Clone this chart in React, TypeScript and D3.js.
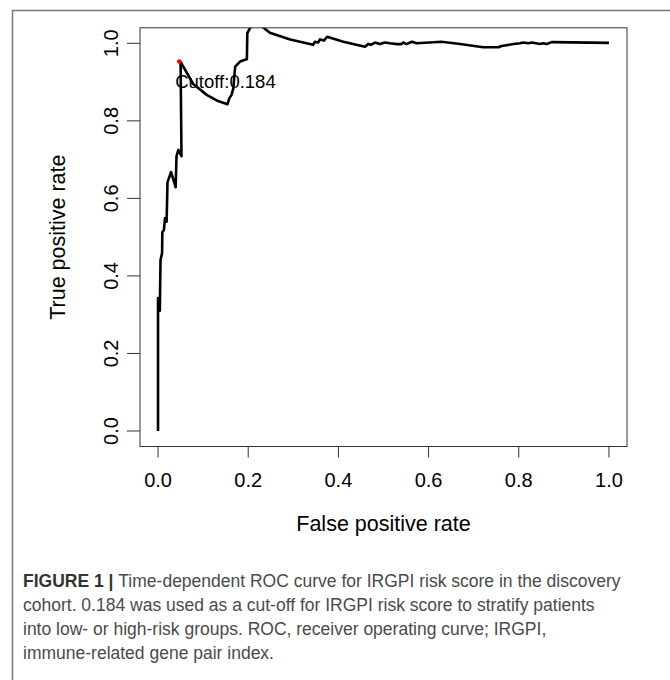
import * as d3 from "d3";
import { useEffect, useRef } from "react";

// ROC curve points (false positive rate / true positive rate)
const fpr = [0, 0, 0.004, 0.0055, 0.009, 0.0095, 0.013, 0.0155, 0.019, 0.021, 0.029, 0.039, 0.041, 0.045, 0.049, 0.052,
  0.050, 0.078, 0.108, 0.133, 0.154, 0.158, 0.163, 0.167, 0.171, 0.178, 0.182, 0.191, 0.197, 0.198, 0.204, 0.210,
  0.229, 0.248, 0.293, 0.344, 0.348, 0.355, 0.359, 0.368, 0.375, 0.411, 0.459, 0.466, 0.472, 0.481, 0.492, 0.503,
  0.514, 0.530, 0.540, 0.544, 0.551, 0.563, 0.574, 0.629, 0.670, 0.721, 0.755, 0.762, 0.788, 0.803, 0.810, 0.821,
  0.829, 0.847, 0.854, 0.862, 0.873, 1.0];
const tpr = [0, 0.343, 0.310, 0.441, 0.459, 0.513, 0.518, 0.549, 0.540, 0.642, 0.668, 0.629, 0.709, 0.725, 0.716, 0.709,
  0.952, 0.895, 0.867, 0.851, 0.843, 0.858, 0.867, 0.884, 0.940, 0.948, 0.953, 0.957, 0.959, 1.026, 1.039, 1.052,
  1.045, 1.027, 1.010, 0.996, 1.004, 1.002, 1.010, 1.007, 1.017, 1.004, 0.991, 0.998, 0.996, 1.002, 0.998, 1.002,
  1.000, 0.998, 0.998, 1.002, 0.998, 1.004, 1.000, 1.004, 0.998, 0.990, 0.990, 0.993, 0.998, 1.000, 1.002, 1.000,
  1.002, 0.998, 1.000, 0.998, 1.003, 1.001];

const cutoffPoint = [0.047, 0.953];
const cutoffLabel = "Cutoff:0.184";

const xTicks = [0, 0.2, 0.4, 0.6, 0.8, 1.0];
const yTicks = [0, 0.2, 0.4, 0.6, 0.8, 1.0];

const xTitle = "False positive rate";
const yTitle = "True positive rate";

const captionLines = [
  { bold: "FIGURE 1 | ", text: "Time-dependent ROC curve for IRGPI risk score in the discovery" },
  { bold: "", text: "cohort. 0.184 was used as a cut-off for IRGPI risk score to stratify patients" },
  { bold: "", text: "into low- or high-risk groups. ROC, receiver operating curve; IRGPI," },
  { bold: "", text: "immune-related gene pair index." },
];

const FONT = "'Liberation Sans', Arial, Helvetica, sans-serif";

export default function App() {
  const ref = useRef<SVGSVGElement>(null);

  useEffect(() => {
    const svg = d3.select(ref.current);
    svg.selectAll("*").remove();

    const left = 140, right = 627, top = 27.8, bottom = 446.5;

    // R style: axis range padded by 4% each side
    const x = d3.scaleLinear().domain([-0.04, 1.04]).range([left, right]);
    const y = d3.scaleLinear().domain([-0.04, 1.04]).range([bottom, top]);

    // figure frame (top + left edge)
    svg.append("path")
      .attr("d", "M12.5,680 L12.5,10.5 L670,10.5")
      .attr("fill", "none")
      .attr("stroke", "#7a7a7a")
      .attr("stroke-width", 1.5);

    svg.append("clipPath").attr("id", "plotclip")
      .append("rect")
      .attr("x", left).attr("y", top)
      .attr("width", right - left).attr("height", bottom - top);

    // curve
    const pts = fpr.map((f, i) => [f, tpr[i]] as [number, number]);
    const line = d3.line<[number, number]>()
      .x(d => x(d[0]))
      .y(d => y(d[1]));

    svg.append("path")
      .datum(pts)
      .attr("clip-path", "url(#plotclip)")
      .attr("d", line)
      .attr("fill", "none")
      .attr("stroke", "#000")
      .attr("stroke-width", 2.6)
      .attr("stroke-linejoin", "round");

    // cutoff point + label
    svg.append("circle")
      .attr("cx", x(cutoffPoint[0]))
      .attr("cy", y(cutoffPoint[1]))
      .attr("r", 2.3)
      .attr("fill", "#ff0000");

    svg.append("text")
      .attr("x", x(cutoffPoint[0]) - 4)
      .attr("y", y(cutoffPoint[1]) + 26)
      .attr("font-family", FONT)
      .attr("font-size", 18.5)
      .attr("fill", "#000")
      .text(cutoffLabel);

    // box
    svg.append("rect")
      .attr("x", left).attr("y", top)
      .attr("width", right - left).attr("height", bottom - top)
      .attr("fill", "none")
      .attr("stroke", "#333")
      .attr("stroke-width", 1);

    // x axis
    const gx = svg.append("g");
    gx.append("line")
      .attr("x1", x(0)).attr("x2", x(1))
      .attr("y1", bottom).attr("y2", bottom)
      .attr("stroke", "#333");
    gx.selectAll(".xt").data(xTicks).enter().append("line")
      .attr("x1", d => x(d)).attr("x2", d => x(d))
      .attr("y1", bottom).attr("y2", bottom + 11)
      .attr("stroke", "#333");
    gx.selectAll(".xl").data(xTicks).enter().append("text")
      .attr("x", d => x(d))
      .attr("y", 487)
      .attr("text-anchor", "middle")
      .attr("font-family", FONT)
      .attr("font-size", 20)
      .text(d => d3.format(".1f")(d));

    // y axis
    const gy = svg.append("g");
    gy.selectAll(".yt").data(yTicks).enter().append("line")
      .attr("x1", left - 13).attr("x2", left)
      .attr("y1", d => y(d)).attr("y2", d => y(d))
      .attr("stroke", "#333");
    gy.selectAll(".yl").data(yTicks).enter().append("text")
      .attr("transform", d => `translate(118,${y(d)}) rotate(-90)`)
      .attr("text-anchor", "middle")
      .attr("font-family", FONT)
      .attr("font-size", 20)
      .text(d => d3.format(".1f")(d));

    // axis titles
    svg.append("text")
      .attr("x", (left + right) / 2)
      .attr("y", 531)
      .attr("text-anchor", "middle")
      .attr("font-family", FONT)
      .attr("font-size", 21.5)
      .text(xTitle);

    svg.append("text")
      .attr("transform", `translate(65,${(top + bottom) / 2}) rotate(-90)`)
      .attr("text-anchor", "middle")
      .attr("font-family", FONT)
      .attr("font-size", 21.5)
      .text(yTitle);

    // caption
    const cap = svg.append("g");
    captionLines.forEach((l, i) => {
      const t = cap.append("text")
        .attr("x", 23)
        .attr("y", 587 + i * 24)
        .attr("font-family", FONT)
        .attr("font-size", 17.5)
        .attr("fill", "#4a4a4a");
      if (l.bold) {
        t.append("tspan").attr("font-weight", "bold").attr("fill", "#333").text(l.bold);
      }
      t.append("tspan").text(l.text);
    });
  }, []);

  return (
    <svg ref={ref} width={670} height={680}
      style={{ position: "absolute", left: 0, top: 0, background: "#fff" }} />
  );
}
